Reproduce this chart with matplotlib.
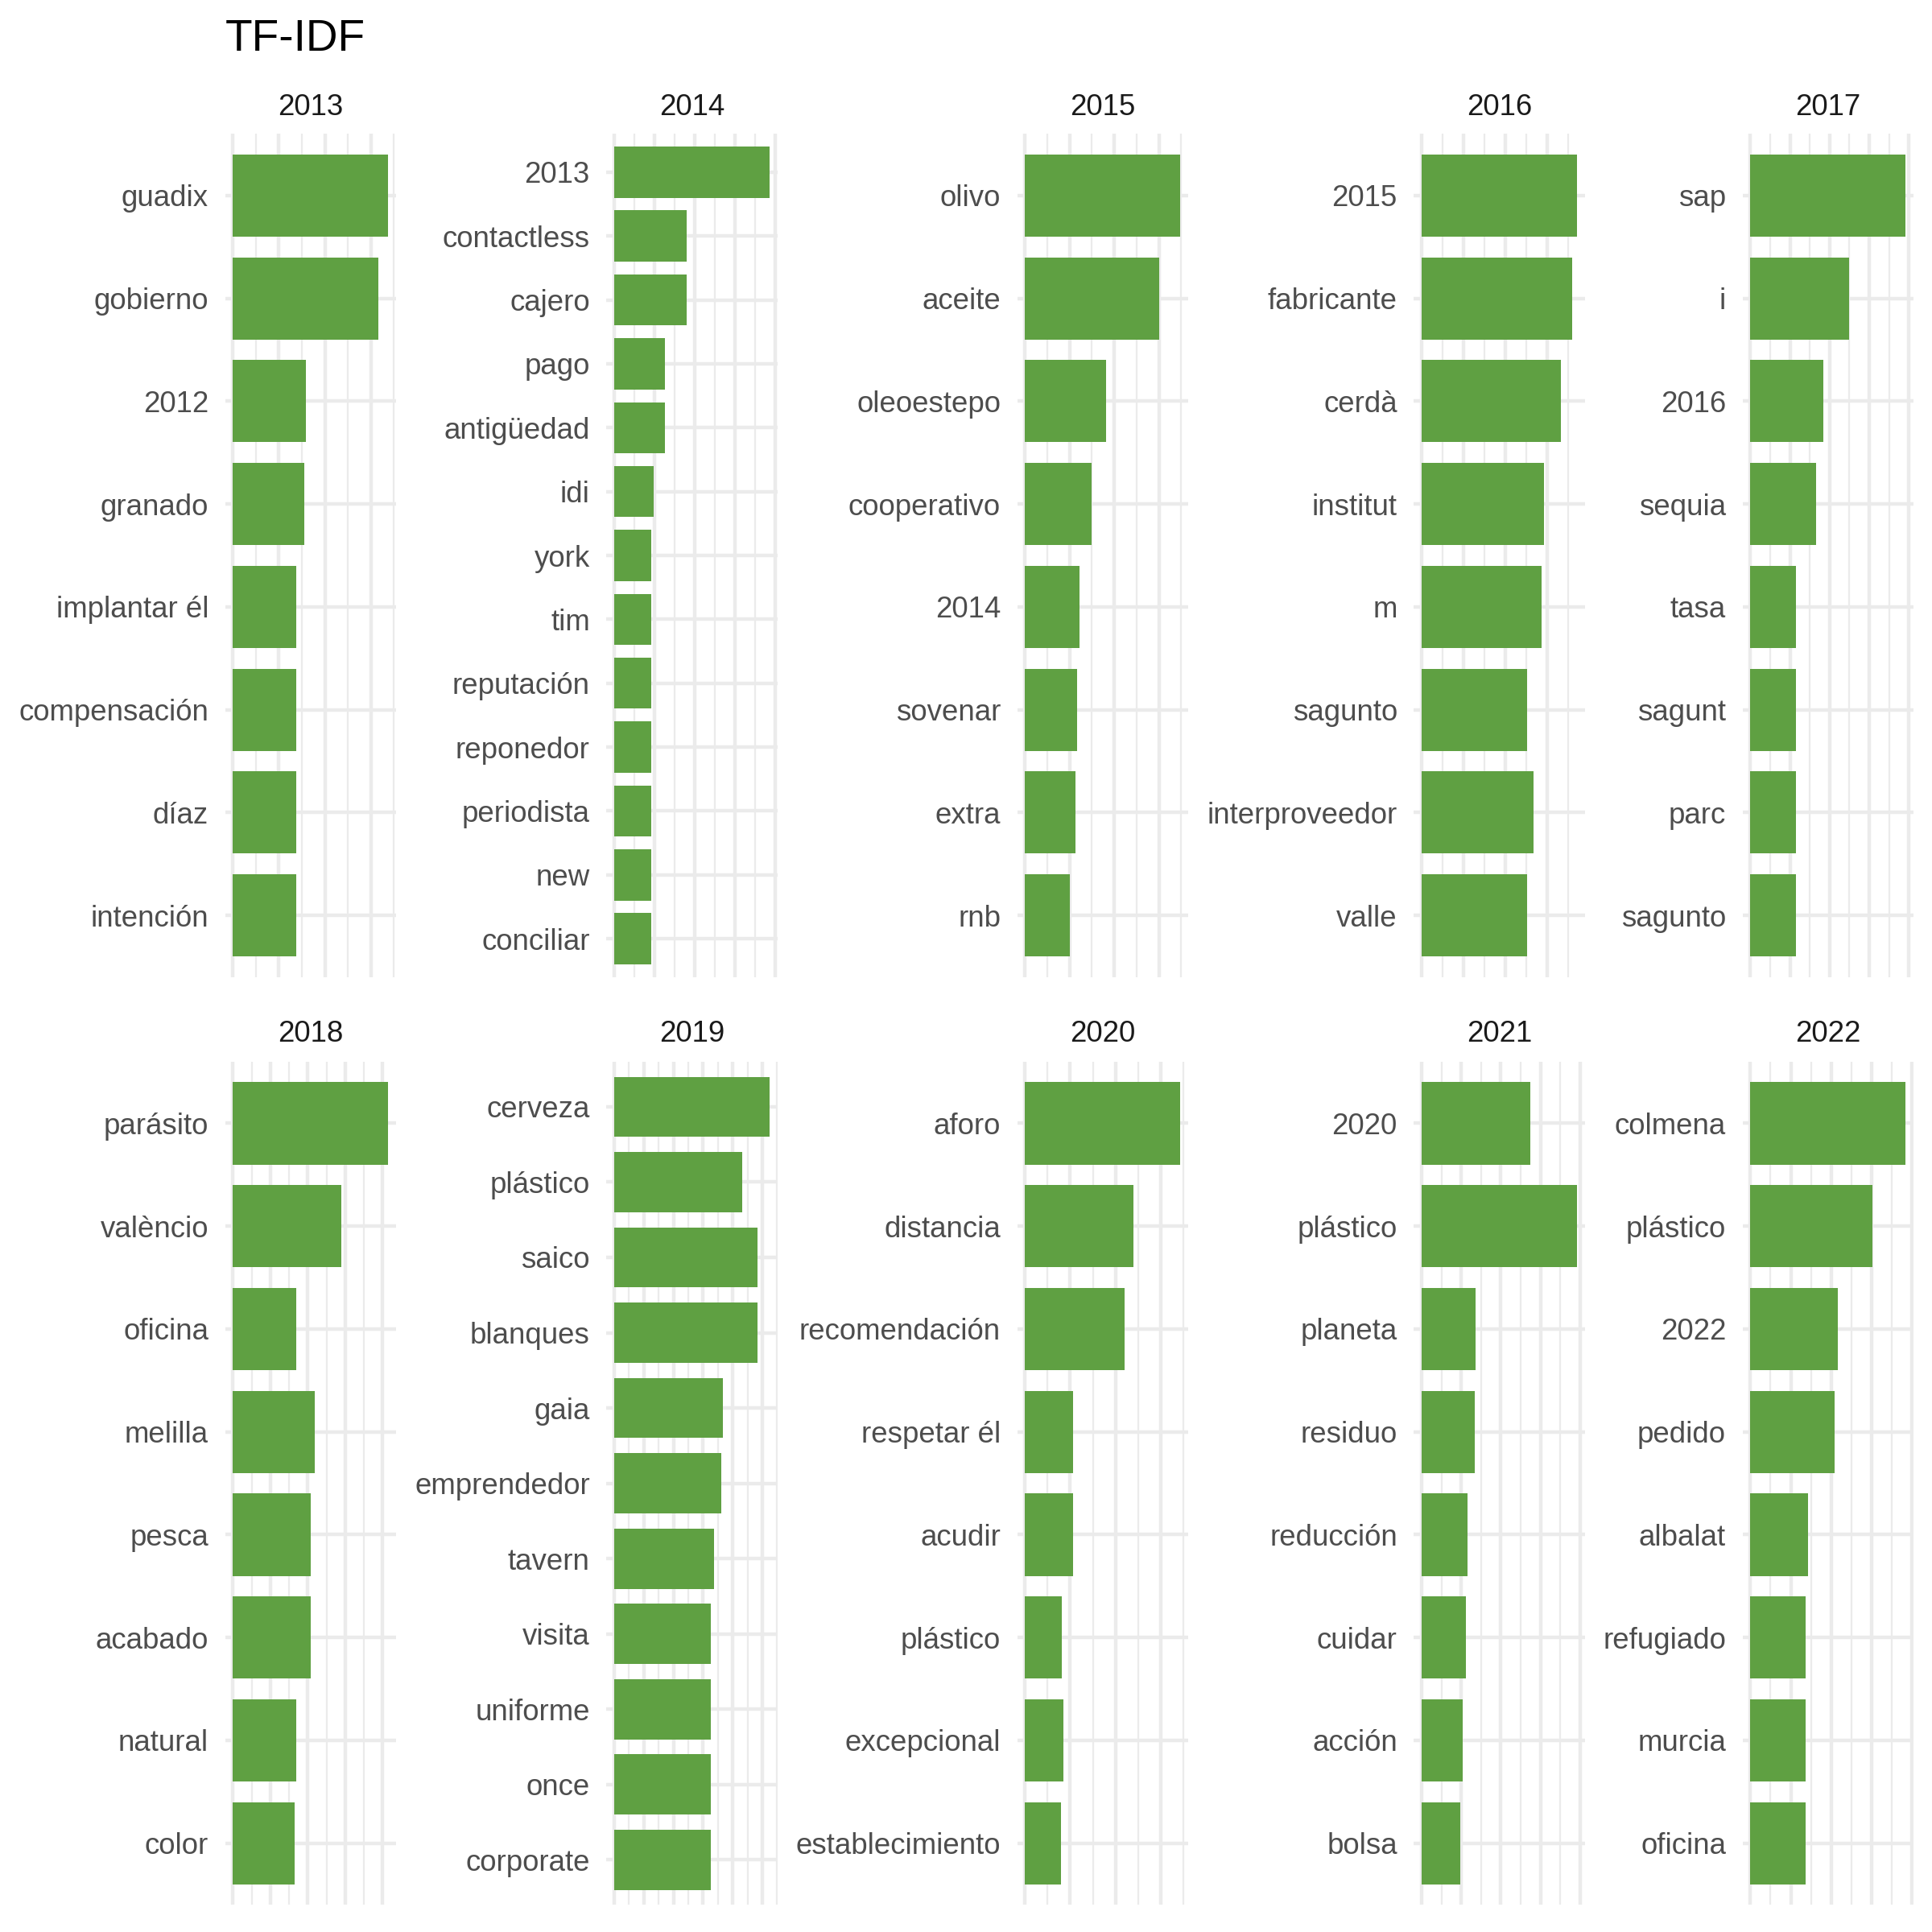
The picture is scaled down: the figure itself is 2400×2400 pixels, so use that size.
import matplotlib
matplotlib.use("Agg")
import matplotlib.pyplot as plt
from matplotlib.ticker import MaxNLocator, AutoMinorLocator

plt.rcParams['font.family'] = ['Liberation Sans', 'DejaVu Sans']

# top-to-bottom order as shown in each facet
years = ["2013", "2014", "2015", "2016", "2017", "2018", "2019", "2020", "2021", "2022"]

terms_2013 = ["guadix", "gobierno", "2012", "granado", "implantar él", "compensación", "díaz", "intención"]
tfidf_2013 = [0.00676, 0.00633, 0.00316, 0.00311, 0.00274, 0.00274, 0.00274, 0.00274]

terms_2014 = ["2013", "contactless", "cajero", "pago", "antigüedad", "idi", "york", "tim",
              "reputación", "reponedor", "periodista", "new", "conciliar"]
tfidf_2014 = [0.00772, 0.00361, 0.00361, 0.00251, 0.00251, 0.00195, 0.00185, 0.00185,
              0.00185, 0.00185, 0.00185, 0.00185, 0.00185]

terms_2015 = ["olivo", "aceite", "oleoestepo", "cooperativo", "2014", "sovenar", "extra", "rnb"]
tfidf_2015 = [0.00697, 0.00603, 0.00365, 0.00299, 0.00243, 0.00232, 0.00227, 0.00200]

terms_2016 = ["2015", "fabricante", "cerdà", "institut", "m", "sagunto", "interproveedor", "valle"]
tfidf_2016 = [0.00741, 0.00717, 0.00665, 0.00582, 0.00570, 0.00502, 0.00535, 0.00504]

terms_2017 = ["sap", "i", "2016", "sequia", "tasa", "sagunt", "parc", "sagunto"]
tfidf_2017 = [0.00785, 0.00498, 0.00368, 0.00330, 0.00231, 0.00231, 0.00231, 0.00231]

terms_2018 = ["parásito", "valèncio", "oficina", "melilla", "pesca", "acabado", "natural", "color"]
tfidf_2018 = [0.00830, 0.00580, 0.00336, 0.00435, 0.00415, 0.00415, 0.00336, 0.00330]

terms_2019 = ["cerveza", "plástico", "saico", "blanques", "gaia", "emprendedor", "tavern",
              "visita", "uniforme", "once", "corporate"]
tfidf_2019 = [0.01050, 0.00866, 0.00967, 0.00967, 0.00733, 0.00725, 0.00675,
              0.00650, 0.00650, 0.00650, 0.00650]

terms_2020 = ["aforo", "distancia", "recomendación", "respetar él", "acudir", "plástico",
              "excepcional", "establecimiento"]
tfidf_2020 = [0.00688, 0.00479, 0.00442, 0.00213, 0.00213, 0.00164, 0.00169, 0.00158]

terms_2021 = ["2020", "plástico", "planeta", "residuo", "reducción", "cuidar", "acción", "bolsa"]
tfidf_2021 = [0.00550, 0.00785, 0.00274, 0.00268, 0.00231, 0.00224, 0.00206, 0.00193]

terms_2022 = ["colmena", "plástico", "2022", "pedido", "albalat", "refugiado", "murcia", "oficina"]
tfidf_2022 = [0.00770, 0.00605, 0.00434, 0.00416, 0.00287, 0.00275, 0.00275, 0.00275]

all_terms = [terms_2013, terms_2014, terms_2015, terms_2016, terms_2017,
             terms_2018, terms_2019, terms_2020, terms_2021, terms_2022]
all_tfidf = [tfidf_2013, tfidf_2014, tfidf_2015, tfidf_2016, tfidf_2017,
             tfidf_2018, tfidf_2019, tfidf_2020, tfidf_2021, tfidf_2022]

bar_color = "#5FA042"
grid_color = "#EBEBEB"

fig = plt.figure(figsize=(8, 8), dpi=300)

# panel layout (figure fractions)
col_left = [0.11654, 0.31392, 0.52654, 0.73183, 0.90196]
panel_w = 0.0885
row_bottom = [0.49425, 0.0140]
panel_h = 0.4365
strip_y = [1 - 143 / 2400, 1 - 1294 / 2400]

for i, year in enumerate(years):
    r, c = divmod(i, 5)
    terms = all_terms[i]
    vals = all_tfidf[i]
    n = len(terms)
    ax = fig.add_axes([col_left[c], row_bottom[r], panel_w, panel_h])
    ypos = [n - 1 - k for k in range(n)]
    ax.barh(ypos, vals, height=0.8, color=bar_color, zorder=2)
    vmax = max(vals)
    ax.set_xlim(-0.05 * vmax, 1.05 * vmax)
    ax.set_ylim(-0.6, n - 1 + 0.6)
    ax.set_yticks(ypos)
    ax.set_yticklabels(terms)
    ax.xaxis.set_major_locator(MaxNLocator(nbins=6, steps=[1, 2, 5, 10]))
    ax.xaxis.set_minor_locator(AutoMinorLocator(2))
    ax.set_axisbelow(True)
    ax.grid(True, which="major", axis="both", color=grid_color, linewidth=1.07, zorder=0)
    ax.grid(True, which="minor", axis="x", color=grid_color, linewidth=0.53, zorder=0)
    for s in ax.spines.values():
        s.set_visible(False)
    ax.tick_params(axis="x", which="both", length=0, labelbottom=False)
    ax.tick_params(axis="y", length=0, pad=4.95, labelsize=8.8, labelcolor="#4D4D4D")
    fig.text(col_left[c] + panel_w / 2, strip_y[r], year, ha="center", va="baseline",
             fontsize=8.8, color="#1A1A1A")

fig.text(col_left[0], 1 - 62.7 / 2400, "TF-IDF", ha="left", va="baseline",
         fontsize=13.2, color="black")

fig.savefig("out.png", dpi=300)
